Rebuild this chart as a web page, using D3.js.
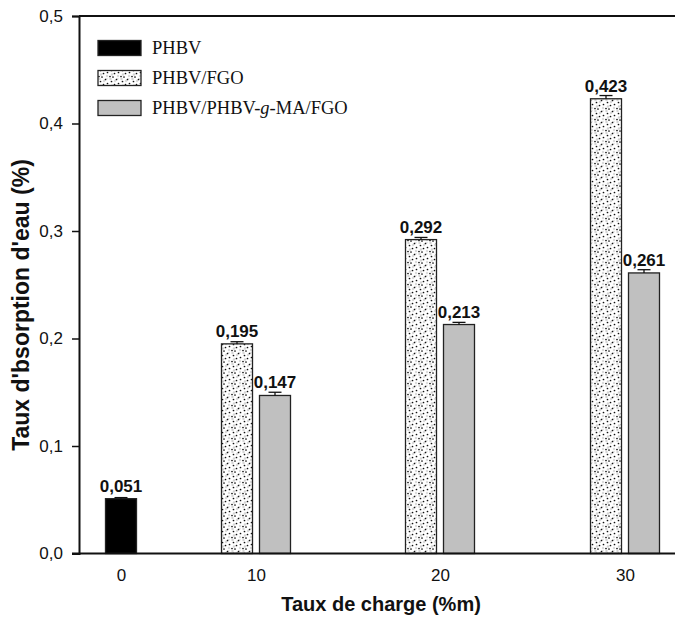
<!DOCTYPE html>
<html>
<head>
<meta charset="utf-8">
<script src="https://cdn.jsdelivr.net/npm/d3@7"></script>
<style>
  body { margin: 0; background: #fff; }
  svg { display: block; }
  .tick-label { font-family: "Liberation Sans", Arial, sans-serif; font-size: 17px; fill: #111; }
  .axis-title { font-family: "Liberation Sans", Arial, sans-serif; font-size: 20px; font-weight: bold; fill: #111; }
  .value { font-family: "Liberation Sans", Arial, sans-serif; font-size: 17px; font-weight: bold; fill: #111; }
  .legend-text { font-family: "Liberation Serif", "Times New Roman", serif; font-size: 18.5px; fill: #111; }
</style>
</head>
<body>
<script>
// chart data
var categories = [0, 10, 20, 30];
var seriesNames = ["PHBV", "PHBV/FGO", "PHBV/PHBV-g-MA/FGO"];
var phbv      = [0.051, null, null, null];
var phbvFgo   = [null, 0.195, 0.292, 0.423];
var phbvMaFgo = [null, 0.147, 0.213, 0.261];
var errPhbv      = [0.001, null, null, null];
var errPhbvFgo   = [null, 0.002, 0.002, 0.003];
var errPhbvMaFgo = [null, 0.003, 0.002, 0.003];
var valueLabels = [["0,051", null, null, null], [null, "0,195", "0,292", "0,423"], [null, "0,147", "0,213", "0,261"]];
var yTicks = [0, 0.1, 0.2, 0.3, 0.4, 0.5];
var yTickLabels = ["0,0", "0,1", "0,2", "0,3", "0,4", "0,5"];
var xTickLabels = ["0", "10", "20", "30"];

var width = 675, height = 619;
var margin = { top: 16, right: 0, bottom: 65.5, left: 79 };

var svg = d3.select("body").append("svg")
    .attr("width", width)
    .attr("height", height);

// dotted fill for the FGO series
var defs = svg.append("defs");
var pat = defs.append("pattern")
    .attr("id", "dots")
    .attr("patternUnits", "userSpaceOnUse")
    .attr("width", 11).attr("height", 11);
pat.append("rect").attr("width", 11).attr("height", 11).attr("fill", "#fff");
[[1.5, 1, "#d4d4d4"], [6, 3, "#dcdcdc"], [3, 7.5, "#d4d4d4"], [9, 9, "#dcdcdc"], [8.5, 0.5, "#e0e0e0"]].forEach(function (p) {
  pat.append("circle").attr("cx", p[0]).attr("cy", p[1]).attr("r", 1.2).attr("fill", p[2]);
});
[[2.5, 3.5], [7.5, 1.5], [1, 9.5], [5.5, 6.5], [9.5, 5.5], [4, 10]].forEach(function (p) {
  pat.append("circle").attr("cx", p[0]).attr("cy", p[1]).attr("r", 0.85).attr("fill", "#111");
});

var fills = ["#000", "url(#dots)", "#c0c0c0"];

var x = d3.scaleLinear()
    .domain(categories)
    .range([121, 256, 440, 625]);

var y = d3.scaleLinear()
    .domain([0, 0.5])
    .range([height - margin.bottom, margin.top]);

var barW = 31, gap = 7;

var series = [phbv, phbvFgo, phbvMaFgo];
var errs = [errPhbv, errPhbvFgo, errPhbvMaFgo];

// flatten to bar records
var bars = [];
categories.forEach(function (c, ci) {
  var present = [];
  series.forEach(function (s, si) { if (s[ci] != null) present.push(si); });
  present.forEach(function (si, k) {
    bars.push({
      cat: c, s: si, v: series[si][ci], e: errs[si][ci], label: valueLabels[si][ci],
      off: (k - (present.length - 1) / 2) * (barW + gap)
    });
  });
});

// bars
svg.selectAll("rect.bar")
  .data(bars)
  .enter().append("rect")
    .attr("class", "bar")
    .attr("x", function (d) { return x(d.cat) + d.off - barW / 2; })
    .attr("y", function (d) { return y(d.v); })
    .attr("width", barW)
    .attr("height", function (d) { return y(0) - y(d.v); })
    .attr("fill", function (d) { return fills[d.s]; })
    .attr("stroke", "#222")
    .attr("stroke-width", 1.3);

// error bars (upper half)
var eb = svg.selectAll("g.err").data(bars).enter().append("g").attr("class", "err");
eb.append("line")
    .attr("x1", function (d) { return x(d.cat) + d.off; })
    .attr("x2", function (d) { return x(d.cat) + d.off; })
    .attr("y1", function (d) { return y(d.v); })
    .attr("y2", function (d) { return y(d.v + d.e); })
    .attr("stroke", "#111").attr("stroke-width", 1.3);
eb.append("line")
    .attr("x1", function (d) { return x(d.cat) + d.off - 6.5; })
    .attr("x2", function (d) { return x(d.cat) + d.off + 6.5; })
    .attr("y1", function (d) { return y(d.v + d.e); })
    .attr("y2", function (d) { return y(d.v + d.e); })
    .attr("stroke", "#111").attr("stroke-width", 1.3);

// value labels
svg.selectAll("text.value")
  .data(bars)
  .enter().append("text")
    .attr("class", "value")
    .attr("x", function (d) { return x(d.cat) + d.off; })
    .attr("y", function (d) { return y(d.v) - 7; })
    .attr("text-anchor", "middle")
    .text(function (d) { return d.label; });

// frame lines
svg.append("line")
    .attr("x1", margin.left).attr("x2", width)
    .attr("y1", y(0.5)).attr("y2", y(0.5))
    .attr("stroke", "#111").attr("stroke-width", 2);
svg.append("line")
    .attr("x1", margin.left - 7).attr("x2", width)
    .attr("y1", y(0)).attr("y2", y(0))
    .attr("stroke", "#111").attr("stroke-width", 2);

// y axis
var yAxis = d3.axisLeft(y)
    .tickValues(yTicks)
    .tickFormat(function (d, i) { return yTickLabels[i]; })
    .tickSize(7)
    .tickPadding(9);
var gy = svg.append("g")
    .attr("transform", "translate(" + margin.left + ",0)")
    .call(yAxis);
gy.select(".domain").attr("stroke", "#111").attr("stroke-width", 2);
gy.selectAll(".tick line").attr("stroke", "#111").attr("stroke-width", 1.5);
gy.selectAll(".tick text").attr("class", "tick-label");
gy.attr("font-size", null).attr("font-family", null);

// x axis labels (no tick marks)
var xAxis = d3.axisBottom(x)
    .tickValues(categories)
    .tickFormat(function (d, i) { return xTickLabels[i]; })
    .tickSize(0)
    .tickPadding(15);
var gx = svg.append("g")
    .attr("transform", "translate(0," + y(0) + ")")
    .call(xAxis);
gx.select(".domain").remove();
gx.selectAll(".tick text").attr("class", "tick-label");
gx.attr("font-size", null).attr("font-family", null);

// axis titles
svg.append("text")
    .attr("class", "axis-title")
    .attr("x", 381).attr("y", 611)
    .attr("text-anchor", "middle")
    .text("Taux de charge (%m)");

svg.append("text")
    .attr("class", "axis-title")
    .attr("transform", "translate(29," + 305 + ") rotate(-90)")
    .attr("text-anchor", "middle")
    .style("font-size", "23px")
    .text("Taux d'bsorption d'eau (%)");

// legend
var legend = svg.append("g").attr("transform", "translate(98,48)");
var li = legend.selectAll("g").data(seriesNames).enter().append("g")
    .attr("transform", function (d, i) { return "translate(0," + i * 30 + ")"; });
li.append("rect")
    .attr("x", 0).attr("y", -7.5)
    .attr("width", 43).attr("height", 15)
    .attr("fill", function (d, i) { return fills[i]; })
    .attr("stroke", "#222").attr("stroke-width", 1.3);
var lt = li.append("text")
    .attr("class", "legend-text")
    .attr("x", 54).attr("y", 6);
lt.each(function (d) {
  var t = d3.select(this);
  var parts = d.split("-g-");
  if (parts.length === 2) {
    t.append("tspan").text(parts[0] + "-");
    t.append("tspan").style("font-style", "italic").text("g");
    t.append("tspan").text("-" + parts[1]);
  } else {
    t.text(d);
  }
});
</script>
</body>
</html>
